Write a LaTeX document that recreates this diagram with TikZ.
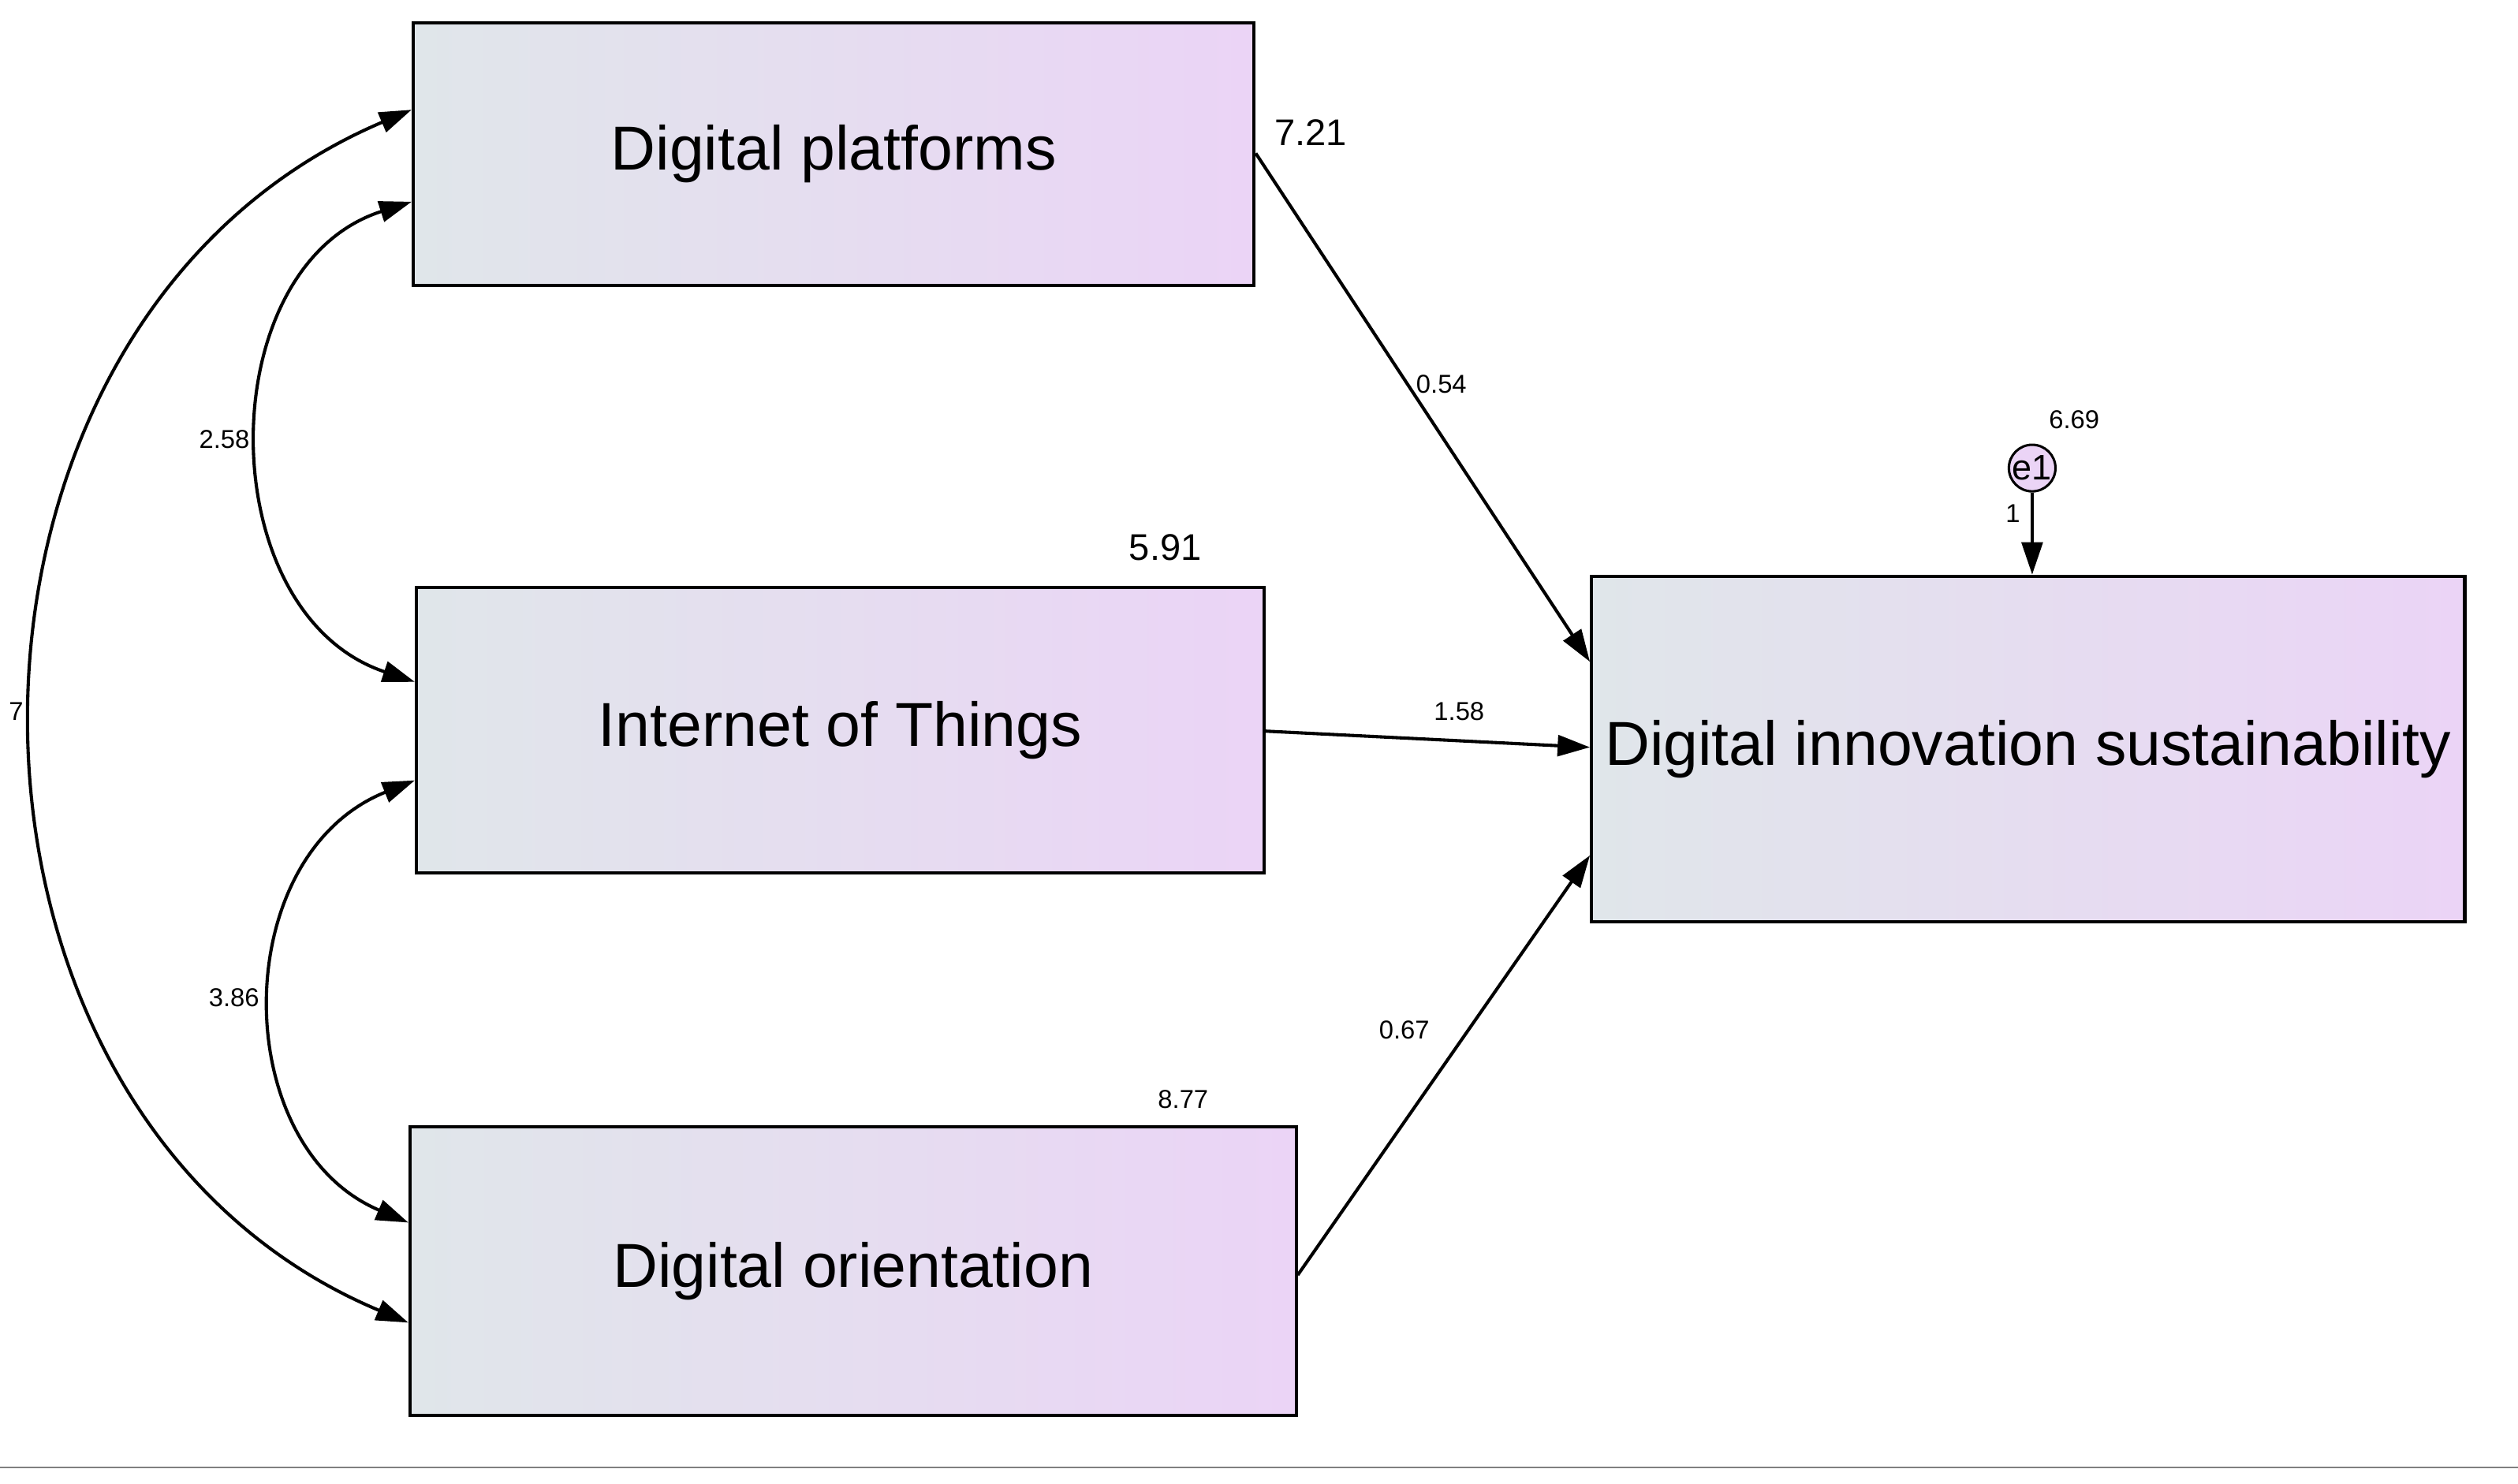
\documentclass[tikz,border=0pt]{standalone}
\usepackage{fontspec}
\setmainfont{Liberation Sans}
\usetikzlibrary{arrows.meta}
\begin{document}
\begin{tikzpicture}[x=1pt,y=-1pt,
 box/.style={draw,line width=2pt,left color=boxL,right color=boxR,shading angle=90,inner sep=0pt,font=\fontsize{38.5}{42}\selectfont},
 arr/.style={line width=2pt,-{Triangle[length=20pt,width=13pt]}},
 biarr/.style={line width=2pt,{Triangle[length=20pt,width=13pt]}-{Triangle[length=20pt,width=13pt]}},
 sm/.style={font=\fontsize{16}{18}\selectfont},
 bg/.style={font=\fontsize{23}{26}\selectfont}]
\definecolor{boxL}{HTML}{E0E6EA}
\definecolor{boxR}{HTML}{EBD4F6}
\useasboundingbox[fill=white] (0,0) rectangle (1560,919);
\draw[line width=1pt,gray] (0,909) -- (1560,909);
\node[box,minimum width=521pt,minimum height=163pt] (dp) at (516.5,95.5) {Digital platforms};
\node[box,minimum width=525pt,minimum height=177pt] (iot) at (520.5,452.5) {Internet of Things};
\node[box,minimum width=549pt,minimum height=179pt] (do) at (528.5,787.5) {Digital orientation};
\node[box,minimum width=541pt,minimum height=214pt] (dis) at (1256.5,464) {Digital innovation sustainability};
\node[draw,circle,line width=1.5pt,fill=boxR,minimum size=28pt,inner sep=0pt,font=\fontsize{22}{24}\selectfont] (e1) at (1259,290) {e1};
\draw[arr] (dp.east |- 0,95) -- (dis.west |- 0,410);
\draw[arr] (iot.east |- 0,453) -- (dis.west |- 0,463);
\draw[arr] (do.east |- 0,790) -- (dis.west |- 0,530);
\draw[arr] (e1) -- (dis.north -| e1);
\draw[biarr] ([yshift=-29.5pt]dp.west) .. controls (130,165) and (130,380) .. ([yshift=30pt]iot.west);
\draw[biarr] ([yshift=27.5pt]dp.west) .. controls (-56,200) and (-56,690) .. ([yshift=-32pt]do.west);
\draw[biarr] ([yshift=-31pt]iot.west) .. controls (141,530) and (141,710) .. ([yshift=30pt]do.west);
\node[bg] (l1) at (812,82) {7.21};
\node[sm] (l2) at (893,238) {0.54};
\node[sm] (l3) at (1285,260) {6.69};
\node[sm] (l4) at (1247,318) {1};
\node[bg] (l5) at (722,339) {5.91};
\node[sm] (l6) at (904,441) {1.58};
\node[sm] (l7) at (139,272) {2.58};
\node[sm] (l8) at (10,441) {7};
\node[sm] (l9) at (145,618) {3.86};
\node[sm] (l10) at (870,638) {0.67};
\node[sm] (l11) at (733,681) {8.77};
\end{tikzpicture}
\end{document}
